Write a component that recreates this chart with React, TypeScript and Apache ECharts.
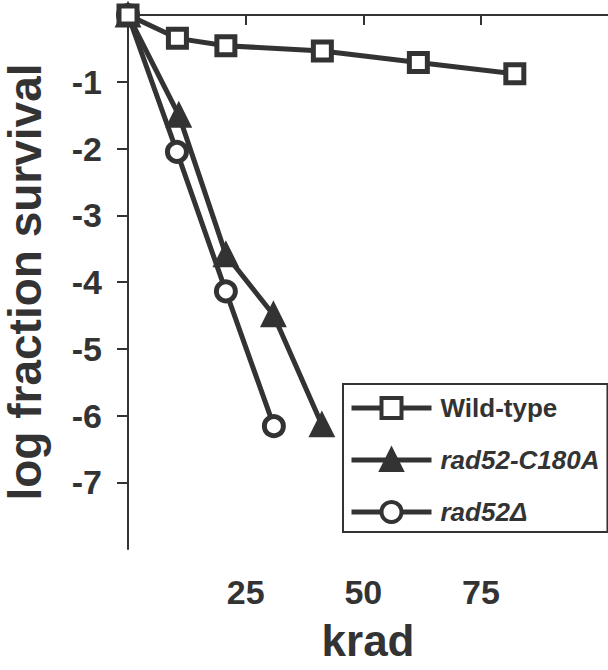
import React, { useEffect, useRef } from "react";
import * as echarts from "echarts";

const wtDose = [0, 10.5, 20.8, 41.3, 61.7, 82.2];
const wtLog = [0, -0.35, -0.46, -0.54, -0.71, -0.88];
const c180Dose = [0, 10.8, 20.8, 30.9, 41.2];
const c180Log = [0, -1.5, -3.59, -4.49, -6.14];
const delDose = [0, 10.4, 20.8, 31];
const delLog = [0, -2.05, -4.14, -6.16];
const xTicks = [25, 50, 75];
const yTicks = [-1, -2, -3, -4, -5, -6, -7];
const seriesNames = ["Wild-type", "rad52-C180A", "rad52\u0394"];

const INK = "#333333";
const FONT = "'Liberation Sans', Arial, sans-serif";

const zip = (xs: number[], ys: number[]) => xs.map((x, i) => [x, ys[i]]);

export default function App() {
  const ref = useRef<HTMLDivElement>(null);
  useEffect(() => {
    if (!ref.current) return;
    const chart = echarts.init(ref.current, undefined, { renderer: "svg" });
    const line = { color: INK, width: 5 };
    chart.setOption({
      animation: false,
      grid: { left: 128, right: 0, top: 15, bottom: 121, containLabel: false, outerBoundsMode: "none" },
      xAxis: {
        type: "value",
        min: 0,
        max: 102,
        name: "krad",
        nameLocation: "middle",
        nameGap: 69,
        nameTextStyle: { fontSize: 44, fontWeight: "bold", color: INK, fontFamily: FONT },
        axisLine: { lineStyle: { color: INK, width: 2 } },
        axisTick: { show: true, length: 10, lineStyle: { color: INK, width: 2 }, customValues: xTicks },
        axisLabel: { fontSize: 34, fontWeight: "bold", color: INK, fontFamily: FONT, margin: 26, customValues: xTicks },
        splitLine: { show: false },
      },
      yAxis: {
        type: "value",
        min: -8,
        max: 0,
        name: "log fraction survival",
        nameLocation: "middle",
        nameGap: 80,
        nameTextStyle: { fontSize: 46, fontWeight: "bold", color: INK, fontFamily: FONT },
        axisLine: { lineStyle: { color: INK, width: 2 } },
        axisTick: { show: true, length: 11, lineStyle: { color: INK, width: 2 }, customValues: yTicks },
        axisLabel: { fontSize: 34, fontWeight: "bold", color: INK, fontFamily: FONT, margin: 26, customValues: yTicks },
        splitLine: { show: false },
      },
      legend: {
        data: seriesNames,
        orient: "vertical",
        left: 343,
        top: 384,
        padding: [11, 8, 7, 6],
        itemGap: 26,
        itemWidth: 80,
        itemHeight: 25,
        borderColor: INK,
        borderWidth: 2,
        backgroundColor: "#ffffff",
        lineStyle: { width: 5, color: INK },
        itemStyle: { borderWidth: 4, borderColor: INK },
        formatter: (name: string) => (name === "Wild-type" ? `{b|${name}}` : `{i|${name}}`),
        textStyle: {
          color: INK,
          fontSize: 26,
          fontWeight: "bold",
          fontFamily: FONT,
          padding: [0, 0, 0, 4],
          rich: {
            b: { fontSize: 26, fontWeight: "bold", fontFamily: FONT, color: INK },
            i: { fontSize: 26, fontWeight: "bold", fontStyle: "italic", fontFamily: FONT, color: INK },
          },
        },
      },
      series: [
        {
          name: seriesNames[2],
          type: "line",
          data: zip(delDose, delLog),
          symbol: "circle",
          symbolSize: 19,
          lineStyle: line,
          itemStyle: { color: "#ffffff", borderColor: INK, borderWidth: 5 },
          z: 2,
        },
        {
          name: seriesNames[1],
          type: "line",
          data: zip(c180Dose, c180Log),
          symbol: "triangle",
          symbolSize: 22,
          lineStyle: line,
          itemStyle: { color: INK, borderColor: INK, borderWidth: 3 },
          z: 3,
        },
        {
          name: seriesNames[0],
          type: "line",
          data: zip(wtDose, wtLog),
          symbol: "rect",
          symbolSize: 18,
          lineStyle: line,
          itemStyle: { color: "#ffffff", borderColor: INK, borderWidth: 5 },
          z: 4,
        },
      ],
    });
    return () => chart.dispose();
  }, []);
  return <div ref={ref} style={{ width: 608, height: 670, position: "absolute", left: 0, top: 0 }} />;
}
